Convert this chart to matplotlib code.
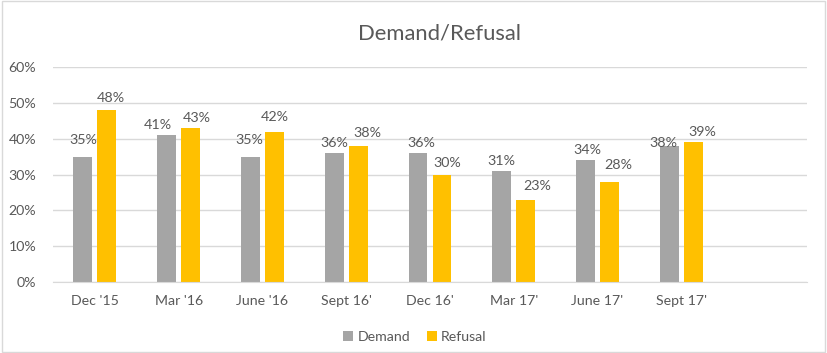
import numpy as np
import matplotlib.pyplot as plt
from matplotlib.patches import Rectangle

periods = ["Dec '15", "Mar '16", "June '16", "Sept 16'", "Dec 16'", "Mar 17'", "June 17'", "Sept 17'"]
demand = [0.35, 0.41, 0.35, 0.36, 0.36, 0.31, 0.34, 0.38]
refusal = [0.48, 0.43, 0.42, 0.38, 0.30, 0.23, 0.28, 0.39]

# label nudges (pixels) as placed in the original chart
demand_nudge = [(0, 17), (-9, 10), (-1, 17), (0, 10), (3, 10), (0, 10), (2, 10), (-6, 3)]
refusal_nudge = [(4, 12), (6, 10), (0, 15), (9, 13), (5, 12), (11, 14), (9, 17), (9, 10)]

plt.rcParams['font.family'] = ['Lato', 'DejaVu Sans']
txt = '#595959'

fig = plt.figure(figsize=(8.27, 3.53), dpi=100)
ax = fig.add_axes([0.0641, 0.2011, 0.9117, 0.6091])

x = np.arange(len(periods))
w = 0.226
off = 0.143
b1 = ax.bar(x - off, demand, w, color='#A5A5A5', label='Demand', zorder=2)
b2 = ax.bar(x + off, refusal, w, color='#FFC000', label='Refusal', zorder=2)

for bars, vals, nudges in [(b1, demand, demand_nudge), (b2, refusal, refusal_nudge)]:
    for bar, v, (dx, dy) in zip(bars, vals, nudges):
        ax.annotate(f'{v:.0%}', (bar.get_x() + bar.get_width() / 2, v),
                    xytext=(dx, dy), textcoords='offset pixels',
                    ha='center', va='center', fontsize=10.3, color=txt)

ax.set_xlim(-0.5, 8.5)
ax.set_ylim(0, 0.6)
ax.set_yticks(np.arange(0, 0.61, 0.1))
ax.set_yticklabels([f'{t:.0%}' for t in np.arange(0, 0.61, 0.1)])
ax.set_xticks(x)
ax.set_xticklabels(periods)
ax.tick_params(length=0, colors=txt, labelsize=10.2)
ax.tick_params(axis='x', pad=9)
ax.tick_params(axis='y', pad=12)
ax.grid(axis='y', color='#D9D9D9', linewidth=1, zorder=0)
for s in ['top', 'right', 'left']:
    ax.spines[s].set_visible(False)
ax.spines['bottom'].set_color('#D9D9D9')

fig.text(439 / 827, 1 - 33 / 353, 'Demand/Refusal', ha='center', va='center',
         fontsize=15.8, color=txt)

fig.legend(handles=[b1, b2], loc='center', bbox_to_anchor=(415 / 827, 0.045),
           ncol=2, frameon=False, fontsize=10.2, handlelength=0.7, handleheight=0.7,
           handletextpad=0.3, columnspacing=1.2, labelcolor=txt)

fig.patches.append(Rectangle((0.002, 0.004), 0.996, 0.992, transform=fig.transFigure,
                             fill=False, edgecolor='#D9D9D9', linewidth=1))

fig.savefig('out.png', dpi=100)
